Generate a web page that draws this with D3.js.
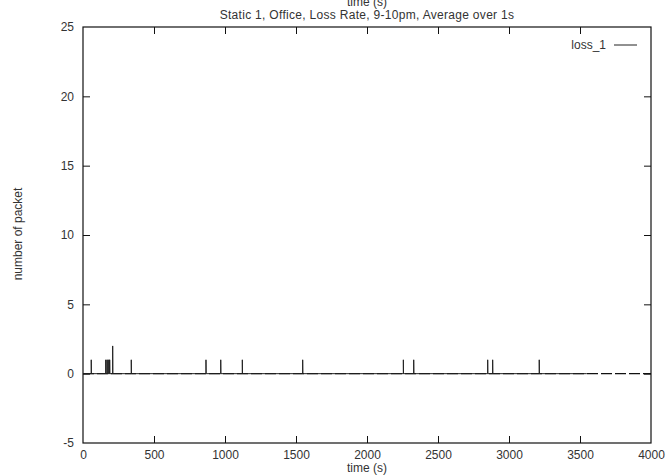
<!DOCTYPE html>
<html>
<head>
<meta charset="utf-8">
<script src="https://cdn.jsdelivr.net/npm/d3@7"></script>
<style>
  body { margin: 0; background: #fff; }
  svg { display: block; }
  text { font-family: "Liberation Sans", Arial, sans-serif; font-size: 12px; fill: #333; }
</style>
</head>
<body>
<svg width="666" height="476"></svg>
<script>
// loss events, averaged over 1s
const lossTimes = [58, 160, 169, 176, 183, 188, 209, 340, 866, 970, 1122, 1547, 2256, 2329, 2850, 2885, 3213];
const lossValues = [1, 1, 1, 1, 1, 1, 2, 1, 1, 1, 1, 1, 1, 1, 1, 1, 1];
const dataEnd = 3548;
const xTicks = [0, 500, 1000, 1500, 2000, 2500, 3000, 3500, 4000];
const yTicks = [-5, 0, 5, 10, 15, 20, 25];

const svg = d3.select("svg");
const plotL = 83, plotR = 651, plotT = 27, plotB = 443;

const x = d3.scaleLinear().domain([0, 4000]).range([plotL, plotR]);
const y = d3.scaleLinear().domain([-5, 25]).range([plotB, plotT]);
const fmt = d => String(d);

// titles
svg.append("text").attr("x", 367).attr("y", 6).attr("text-anchor", "middle").text("time (s)");
svg.append("text").attr("x", 367).attr("y", 19).attr("text-anchor", "middle")
  .attr("letter-spacing", 0.3)
  .text("Static 1, Office, Loss Rate, 9-10pm, Average over 1s");
svg.append("text").attr("x", 367).attr("y", 472).attr("text-anchor", "middle").text("time (s)");
svg.append("text")
  .attr("transform", "translate(22,234) rotate(-90)")
  .attr("text-anchor", "middle")
  .text("number of packet");

// zero axis, dashed
svg.append("line")
  .attr("x1", x(0)).attr("x2", x(4000))
  .attr("y1", y(0)).attr("y2", y(0))
  .attr("stroke", "#111").attr("stroke-width", 1.2)
  .attr("stroke-dasharray", "11,3");

// axes with inward ticks
const tick = 7;
const gx = svg.append("g").attr("transform", `translate(0,${plotB})`)
  .call(d3.axisBottom(x).tickValues(xTicks).tickSize(-tick).tickPadding(7).tickFormat(fmt));
const gxTop = svg.append("g").attr("transform", `translate(0,${plotT})`)
  .call(d3.axisTop(x).tickValues(xTicks).tickSize(-tick).tickFormat(""));
const gy = svg.append("g").attr("transform", `translate(${plotL},0)`)
  .call(d3.axisLeft(y).tickValues(yTicks).tickSize(-tick).tickPadding(9).tickFormat(fmt));
const gyRight = svg.append("g").attr("transform", `translate(${plotR},0)`)
  .call(d3.axisRight(y).tickValues(yTicks).tickSize(-tick).tickFormat(""));

[gx, gxTop, gy, gyRight].forEach(g => {
  g.select(".domain").remove();
  g.selectAll(".tick line").attr("stroke", "#111");
  g.selectAll("text").attr("font-family", null).attr("font-size", null).attr("fill", null);
});
// drop edge ticks that sit on the frame
gx.selectAll(".tick").filter(d => d === 0 || d === 4000).select("line").remove();
gxTop.selectAll(".tick").filter(d => d === 0 || d === 4000).select("line").remove();
gy.selectAll(".tick").filter(d => d === -5 || d === 25).select("line").remove();
gyRight.selectAll(".tick").filter(d => d === -5 || d === 25).select("line").remove();

// frame
svg.append("rect")
  .attr("x", plotL).attr("y", plotT)
  .attr("width", plotR - plotL).attr("height", plotB - plotT)
  .attr("fill", "none").attr("stroke", "#111").attr("stroke-width", 1.2);

// data line
const pts = [[0, 0]];
lossTimes.forEach((t, i) => {
  pts.push([t, 0], [t, lossValues[i]], [t + 1, 0]);
});
pts.push([dataEnd, 0]);

const line = d3.line().x(d => x(d[0])).y(d => y(d[1]));
svg.append("path")
  .datum(pts)
  .attr("d", line)
  .attr("fill", "none")
  .attr("stroke", "#222")
  .attr("stroke-width", 1);

// legend
svg.append("text").attr("x", 606).attr("y", 49).attr("text-anchor", "end").text("loss_1");
svg.append("line")
  .attr("x1", 614).attr("x2", 637).attr("y1", 45).attr("y2", 45)
  .attr("stroke", "#222").attr("stroke-width", 1);
</script>
</body>
</html>
